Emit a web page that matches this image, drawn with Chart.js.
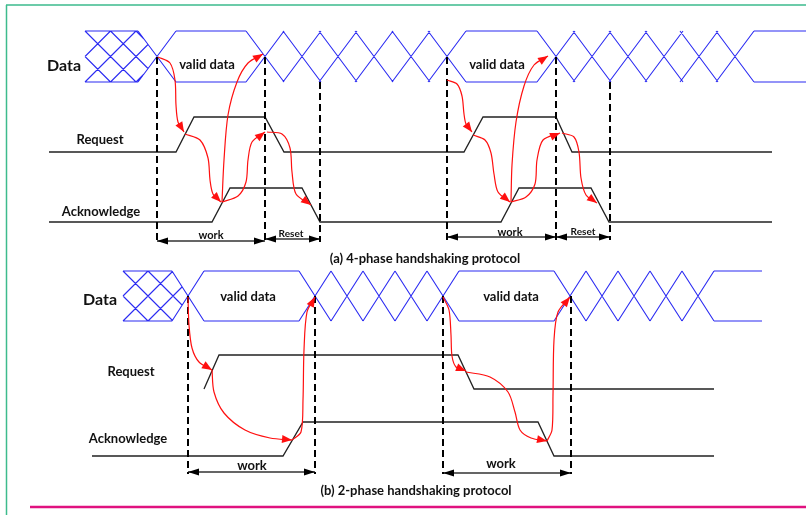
<!DOCTYPE html>
<html>
<head>
<meta charset="utf-8">
<script src="https://cdn.jsdelivr.net/npm/chart.js@4.4.1/dist/chart.umd.min.js"></script>
<style>
  html, body { margin: 0; padding: 0; background: #fff; }
  #wrap { width: 806px; height: 515px; }
</style>
</head>
<body>
<div id="wrap"><canvas id="grafico" width="806" height="515"></canvas></div>
<script>
// ---------- (a) 4-phase handshaking ----------
const busA_rails = [31, 82];                 // Data top / bottom
const busA_cross = [157, 265, 302, 338, 374, 411, 447, 556, 592, 628, 664, 699, 735];
const busA_span = [85, 806];                 // hatch start, bus end
const reqA_t = [49, 176, 194, 265, 284, 464, 483, 556, 572, 772];
const reqA_v = [0, 0, 1, 1, 0, 0, 1, 1, 0, 0];
const reqA_lane = [152, 117];
const ackA_t = [49, 212, 230, 302, 320, 501, 519, 591, 609, 772];
const ackA_v = [0, 0, 1, 1, 0, 0, 1, 1, 0, 0];
const ackA_lane = [222, 188];
const markA_x = [157, 265, 320, 447, 556, 610];
const markA_from = [57, 57, 82, 57, 57, 82];
const markA_to = [242, 242, 242, 240, 240, 240];
const spanA = [[157, 265, 241], [265, 320, 239], [447, 556, 237], [556, 610, 237]];
const arrowsA = [
  [[158, 57], [170, 63], [175, 80], [176, 105], [178, 122], [184, 132]],
  [[185, 134], [200, 140], [208, 158], [210, 180], [213, 194], [221, 202]],
  [[222, 202], [224, 160], [228, 115], [237, 82], [248, 63], [263, 54]],
  [[222, 202], [238, 196], [246, 182], [248, 160], [252, 142], [265, 132]],
  [[267, 132], [282, 134], [290, 148], [292, 172], [296, 194], [311, 205]],
  [[447, 80], [457, 84], [462, 96], [464, 114], [466, 124], [472, 132]],
  [[473, 135], [485, 140], [491, 153], [494, 174], [498, 192], [510, 202]],
  [[511, 202], [512, 165], [516, 122], [524, 86], [534, 65], [548, 56]],
  [[511, 202], [526, 197], [535, 184], [537, 160], [543, 140], [560, 133]],
  [[562, 133], [574, 137], [579, 152], [581, 178], [586, 195], [597, 203]]
];

// ---------- (b) 2-phase handshaking ----------
const busB_rails = [271, 321];
const busB_cross = [188, 315, 347, 379, 411, 443, 570, 602, 634, 666, 698];
const busB_span = [123, 762];
const reqB_t = [204, 219, 458, 474, 714];
const reqB_v = [0, 1, 1, 0, 0];
const reqB_lane = [389, 355];
const ackB_t = [92, 283, 303, 538, 554, 714];
const ackB_v = [0, 0, 1, 1, 0, 0];
const ackB_lane = [456, 422];
const markB_x = [188, 315, 443, 571];
const markB_from = [296, 296, 296, 296];
const markB_to = [474, 474, 474, 474];
const spanB = [[188, 315, 472], [443, 571, 473]];
const arrowsB = [
  [[188, 297], [189, 325], [192, 348], [199, 362], [212, 370]],
  [[212, 370], [214, 392], [224, 413], [245, 430], [270, 438], [292, 440]],
  [[292, 440], [301, 432], [303, 400], [304, 350], [307, 312], [315, 297]],
  [[443, 297], [449, 310], [451, 335], [452, 356], [456, 367], [466, 371]],
  [[466, 372], [490, 377], [508, 392], [515, 412], [520, 430], [531, 438], [547, 441]],
  [[547, 441], [552, 430], [553, 395], [554, 340], [558, 312], [570, 297]]
];

const labelText = ['Data', 'valid data', 'valid data', 'Request', 'Acknowledge', 'work', 'Reset', 'work', 'Reset',
  '(a) 4-phase handshaking protocol',
  'Data', 'valid data', 'valid data', 'Request', 'Acknowledge', 'work', 'work',
  '(b) 2-phase handshaking protocol'];
const labelLayout = [
  [64, 66, 16], [207, 65, 13], [497, 65, 13], [100, 140, 13], [101, 212, 13], [211, 235, 11], [291, 234, 10], [510, 232, 11], [583, 232, 10],
  [425, 259, 13],
  [100, 300, 16], [248, 297, 13], [511, 297, 13], [131, 372, 13], [128, 439, 13], [252, 466, 13], [501, 464, 13],
  [416, 491, 13]
];

const BLUE = '#2b2bf2';
const datasets = [];

function pts(list) {
  const out = [];
  list.forEach((seg, i) => {
    if (i > 0) out.push({ x: null, y: null });
    seg.forEach(p => out.push({ x: p[0], y: p[1] }));
  });
  return out;
}

function addLine(segs, opts) {
  datasets.push(Object.assign({
    data: pts(segs), showLine: true, pointRadius: 0, pointHoverRadius: 0,
    fill: false, tension: 0, borderWidth: 1.3, borderColor: '#000'
  }, opts));
}

function busSegs(rails, cross, span) {
  const T = rails[0], B = rails[1], H = B - T, M = (T + B) / 2;
  const w = Math.round((cross[2] - cross[1]) / 2);
  const segs = [];
  let from = span[0];
  cross.forEach(c => {
    if (c - w > from + 0.5) { segs.push([[from, T], [c - w, T]]); segs.push([[from, B], [c - w, B]]); }
    segs.push([[c - w, T], [c + w, B]]);
    segs.push([[c - w, B], [c + w, T]]);
    from = c + w;
  });
  if (span[1] > from) { segs.push([[from, T], [span[1], T]]); segs.push([[from, B], [span[1], B]]); }
  // undefined-data hatch before the first crossing
  const c0 = cross[0], x0 = span[0], pitch = H / 2;
  const xr = y => c0 - w * Math.abs(y - M) / (H / 2);
  for (let a = x0 - 3 * pitch; a <= c0 + pitch; a += pitch) {
    [y => a + (y - T), y => a + (B - y)].forEach(fx => {
      let first = null, last = null;
      for (let i = 0; i <= H * 4; i++) {
        const y = T + i / 4, x = fx(y);
        if (x >= x0 - 0.01 && x <= xr(y) + 0.01) { if (!first) first = [x, y]; last = [x, y]; }
      }
      if (first && Math.abs(first[1] - last[1]) > 1) segs.push([first, last]);
    });
  }
  return segs;
}

function waveSegs(t, v, lane) {
  return [t.map((x, i) => [x, lane[v[i]]])];
}

function markSegs(xs, from, to) {
  return xs.map((x, i) => [[x, from[i]], [x, to[i]]]);
}

// page frame
addLine([[[6, 5], [806, 5]], [[6.5, 5], [6.5, 515]]], { borderColor: '#3dbb8d', borderWidth: 1.5, order: 5 });
addLine([[[30, 507], [806, 507]]], { borderColor: '#e0117f', borderWidth: 2.5, order: 5 });

addLine(busSegs(busA_rails, busA_cross, busA_span), { borderColor: BLUE, borderWidth: 1.1, order: 4 });
addLine(busSegs(busB_rails, busB_cross, busB_span), { borderColor: BLUE, borderWidth: 1.1, order: 4 });

addLine(waveSegs(reqA_t, reqA_v, reqA_lane), { borderColor: '#222', order: 3 });
addLine(waveSegs(ackA_t, ackA_v, ackA_lane), { borderColor: '#222', order: 3 });
addLine(waveSegs(reqB_t, reqB_v, reqB_lane), { borderColor: '#222', order: 3 });
addLine(waveSegs(ackB_t, ackB_v, ackB_lane), { borderColor: '#222', order: 3 });

addLine(markSegs(markA_x, markA_from, markA_to), { borderColor: '#000', borderWidth: 2, borderDash: [7, 4], order: 2 });
addLine(markSegs(markB_x, markB_from, markB_to), { borderColor: '#000', borderWidth: 2, borderDash: [7, 4], order: 2 });

const spans = spanA.concat(spanB);
addLine(spans.map(s => [[s[0], s[2]], [s[1], s[2]]]), { borderColor: '#333', borderWidth: 1.3, order: 2 });

const arrows = arrowsA.concat(arrowsB);
arrows.forEach(a => addLine([a], { borderColor: '#ff1010', borderWidth: 1.2, tension: 0.3, order: 0 }));

function head(ctx, tip, from, len, half, color) {
  const dx = tip[0] - from[0], dy = tip[1] - from[1];
  const d = Math.hypot(dx, dy) || 1, ux = dx / d, uy = dy / d;
  ctx.beginPath();
  ctx.moveTo(tip[0], tip[1]);
  ctx.lineTo(tip[0] - ux * len - uy * half, tip[1] - uy * len + ux * half);
  ctx.lineTo(tip[0] - ux * len + uy * half, tip[1] - uy * len - ux * half);
  ctx.closePath();
  ctx.fillStyle = color;
  ctx.fill();
}

const overlay = {
  id: 'overlay',
  afterDatasetsDraw(chart) {
    const ctx = chart.ctx, sx = chart.scales.x, sy = chart.scales.y;
    const px = p => [sx.getPixelForValue(p[0]), sy.getPixelForValue(p[1])];
    ctx.save();
    arrows.forEach(a => head(ctx, px(a[a.length - 1]), px(a[a.length - 2]), 10, 4, '#ff1010'));
    spans.forEach(s => {
      head(ctx, px([s[0], s[2]]), px([s[0] + 5, s[2]]), 11, 3.5, '#000');
      head(ctx, px([s[1], s[2]]), px([s[1] - 5, s[2]]), 11, 3.5, '#000');
    });
    ctx.fillStyle = '#111';
    ctx.textAlign = 'center';
    ctx.textBaseline = 'middle';
    labelText.forEach((t, i) => {
      const L = labelLayout[i];
      ctx.font = 'bold ' + L[2] + 'px Lato, "Open Sans", sans-serif';
      const p = px([L[0], L[1]]);
      ctx.fillText(t, p[0], p[1]);
    });
    ctx.restore();
  }
};

const ctx = document.getElementById('grafico').getContext('2d');
new Chart(ctx, {
  type: 'scatter',
  data: { datasets: datasets },
  options: {
    responsive: false,
    animation: false,
    devicePixelRatio: 1,
    events: [],
    layout: { padding: 0 },
    scales: {
      x: { type: 'linear', min: 0, max: 806, display: false },
      y: { type: 'linear', min: 0, max: 515, reverse: true, display: false }
    },
    plugins: { legend: { display: false }, tooltip: { enabled: false } }
  },
  plugins: [overlay]
});
</script>
</body>
</html>
